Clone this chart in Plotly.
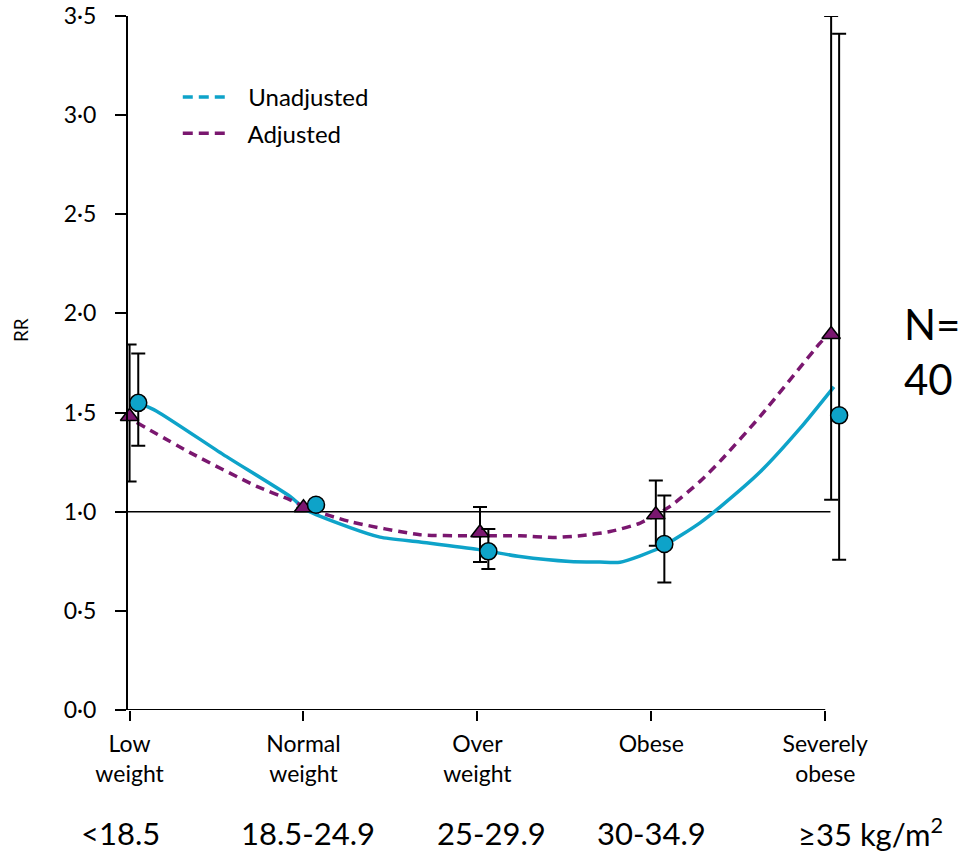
import plotly.graph_objects as go

# ---------------- data ----------------
categories = ["Low<br>weight", "Normal<br>weight", "Over<br>weight", "Obese", "Severely<br>obese"]
bmi_ranges = ["<18.5", "18.5-24.9", "25-29.9", "30-34.9", "≥35 kg/m<sup>2</sup>"]
cat_pos = [0, 1, 2, 3, 4]

y_ticks = [0.0, 0.5, 1.0, 1.5, 2.0, 2.5, 3.0, 3.5]
y_ticktext = ["0·0", "0·5", "1·0", "1·5", "2·0", "2·5", "3·0", "3·5"]

# point estimates and 95% CI
adj_rr = [1.48, 1.02, 0.894, 0.985, 1.894]
adj_hi = [1.843, None, 1.024, 1.157, 3.50]
adj_lo = [1.153, None, 0.746, 0.828, 1.06]

unadj_rr = [1.549, 1.035, 0.80, 0.837, 1.486]
unadj_hi = [1.798, None, 0.913, 1.082, 3.41]
unadj_lo = [1.333, None, 0.711, 0.643, 0.758]

# horizontal dodge of markers (category units)
adj_dodge = [0.0, 0.0, 0.015, 0.026, 0.034]
unadj_dodge = [0.05, 0.072, 0.063, 0.075, 0.08]

# fitted curves
unadj_curve_x = [0.049, 0.156, 0.539, 0.923, 1.015, 1.268, 1.44, 1.67, 2.0, 2.245,
                 2.533, 2.705, 2.82, 3.05, 3.28, 3.40, 3.625, 3.855, 4.05]
unadj_curve_y = [1.55, 1.507, 1.288, 1.077, 1.01, 0.92, 0.872, 0.847, 0.81, 0.774,
                 0.749, 0.746, 0.745, 0.818, 0.944, 1.027, 1.20, 1.42, 1.63]

adj_curve_x = [0.041, 0.348, 0.731, 0.923, 1.015, 1.268, 1.67, 1.958, 2.245, 2.435,
               2.59, 2.763, 2.936, 3.108, 3.28, 3.395, 3.625, 3.97, 4.015]
adj_curve_y = [1.45, 1.298, 1.128, 1.06, 1.02, 0.95, 0.884, 0.879, 0.879, 0.87,
               0.879, 0.90, 0.943, 1.027, 1.153, 1.254, 1.48, 1.85, 1.89]

TEAL = "#0ea3c9"
PURPLE = "#7a176f"
FONT = "Lato"


def err_up(vals, hi):
    return [None if h is None else h - v for v, h in zip(vals, hi)]


def err_dn(vals, lo):
    return [None if l is None else v - l for v, l in zip(vals, lo)]


fig = go.Figure()

# curves
fig.add_trace(go.Scatter(
    x=unadj_curve_x, y=unadj_curve_y, mode="lines",
    line=dict(color=TEAL, width=3.5, shape="spline", smoothing=0.6),
    showlegend=False, hoverinfo="skip", cliponaxis=False))
fig.add_trace(go.Scatter(
    x=adj_curve_x, y=adj_curve_y, mode="lines",
    line=dict(color=PURPLE, width=3.5, dash="9px,6px", shape="spline", smoothing=0.6),
    showlegend=False, hoverinfo="skip", cliponaxis=False))

# markers with error bars
fig.add_trace(go.Scatter(
    x=[c + d for c, d in zip(cat_pos, adj_dodge)], y=adj_rr, mode="markers",
    marker=dict(symbol="triangle-up", size=16, color=PURPLE, line=dict(color="black", width=1.5)),
    error_y=dict(type="data", symmetric=False, array=err_up(adj_rr, adj_hi),
                 arrayminus=err_dn(adj_rr, adj_lo), color="black", thickness=2, width=7),
    showlegend=False, cliponaxis=False))
fig.add_trace(go.Scatter(
    x=[c + d for c, d in zip(cat_pos, unadj_dodge)], y=unadj_rr, mode="markers",
    marker=dict(symbol="circle", size=17, color=TEAL, line=dict(color="black", width=1.5)),
    error_y=dict(type="data", symmetric=False, array=err_up(unadj_rr, unadj_hi),
                 arrayminus=err_dn(unadj_rr, unadj_lo), color="black", thickness=2, width=7),
    showlegend=False, cliponaxis=False))

# legend entries
fig.add_trace(go.Scatter(x=[None], y=[None], mode="lines", name="\u00a0\u00a0\u00a0Unadjusted",
                         legendgroup="u",
                         line=dict(color=TEAL, width=3.5, dash="10px,6px")))
fig.add_trace(go.Scatter(x=[None], y=[None], mode="lines", name="\u00a0\u00a0\u00a0Adjusted",
                         legendgroup="a",
                         line=dict(color=PURPLE, width=3.5, dash="10px,6px")))

# reference line and x-axis line
fig.add_shape(type="line", xref="x", yref="y", x0=-0.009, x1=4.03, y0=1, y1=1,
              line=dict(color="black", width=1.5), layer="below")
fig.add_shape(type="line", xref="x", yref="y", x0=-0.009, x1=4.0, y0=0, y1=0,
              line=dict(color="black", width=2), layer="above")

# annotations
fig.add_annotation(text="RR", xref="paper", yref="paper", x=-0.147, y=0.548,
                   xanchor="center", yanchor="middle",
                   textangle=-90, showarrow=False, font=dict(family=FONT, size=19, color="black"))
label_x = [-0.0096, 0.246, 0.497, 0.7154, 1.0137]
for lx, t in zip(label_x, bmi_ranges):
    fig.add_annotation(text=t, xref="paper", yref="paper", x=lx, y=-0.177,
                       xanchor="center", yanchor="middle",
                       showarrow=False, font=dict(family=FONT, size=31, color="black"))
fig.add_annotation(text="N=<br>40", xref="paper", yref="paper", x=1.058, y=0.517,
                   xanchor="left", yanchor="middle", align="left", showarrow=False,
                   font=dict(family=FONT, size=42, color="black"))

fig.update_layout(
    width=961, height=852, autosize=False,
    margin=dict(l=128, r=101, t=16, b=142, autoexpand=False),
    paper_bgcolor="white", plot_bgcolor="white",
    font=dict(family=FONT, color="black"),
    legend=dict(x=0.068, y=0.915, xanchor="left", yanchor="top",
                bgcolor="rgba(0,0,0,0)", borderwidth=0,
                font=dict(family=FONT, size=24, color="black"),
                itemwidth=42, tracegroupgap=2, traceorder="grouped"),
    xaxis=dict(range=[-0.009, 4.2], tickvals=cat_pos, ticktext=categories,
               showgrid=False, zeroline=False, showline=False, automargin=False,
               ticks="outside", ticklen=10, tickwidth=2, tickcolor="black",
               tickfont=dict(family=FONT, size=23, color="black"), ticklabelstandoff=3),
    yaxis=dict(range=[0, 3.5], tickvals=y_ticks, ticktext=y_ticktext,
               showgrid=False, zeroline=False, showline=True, linewidth=2, linecolor="black",
               automargin=False,
               ticks="outside", ticklen=11, tickwidth=2, tickcolor="black",
               tickfont=dict(family=FONT, size=23, color="black"), ticklabelstandoff=14),
)

fig.write_html("out.html", config={"displayModeBar": False},
               post_script="document.body.style.margin='0';")
